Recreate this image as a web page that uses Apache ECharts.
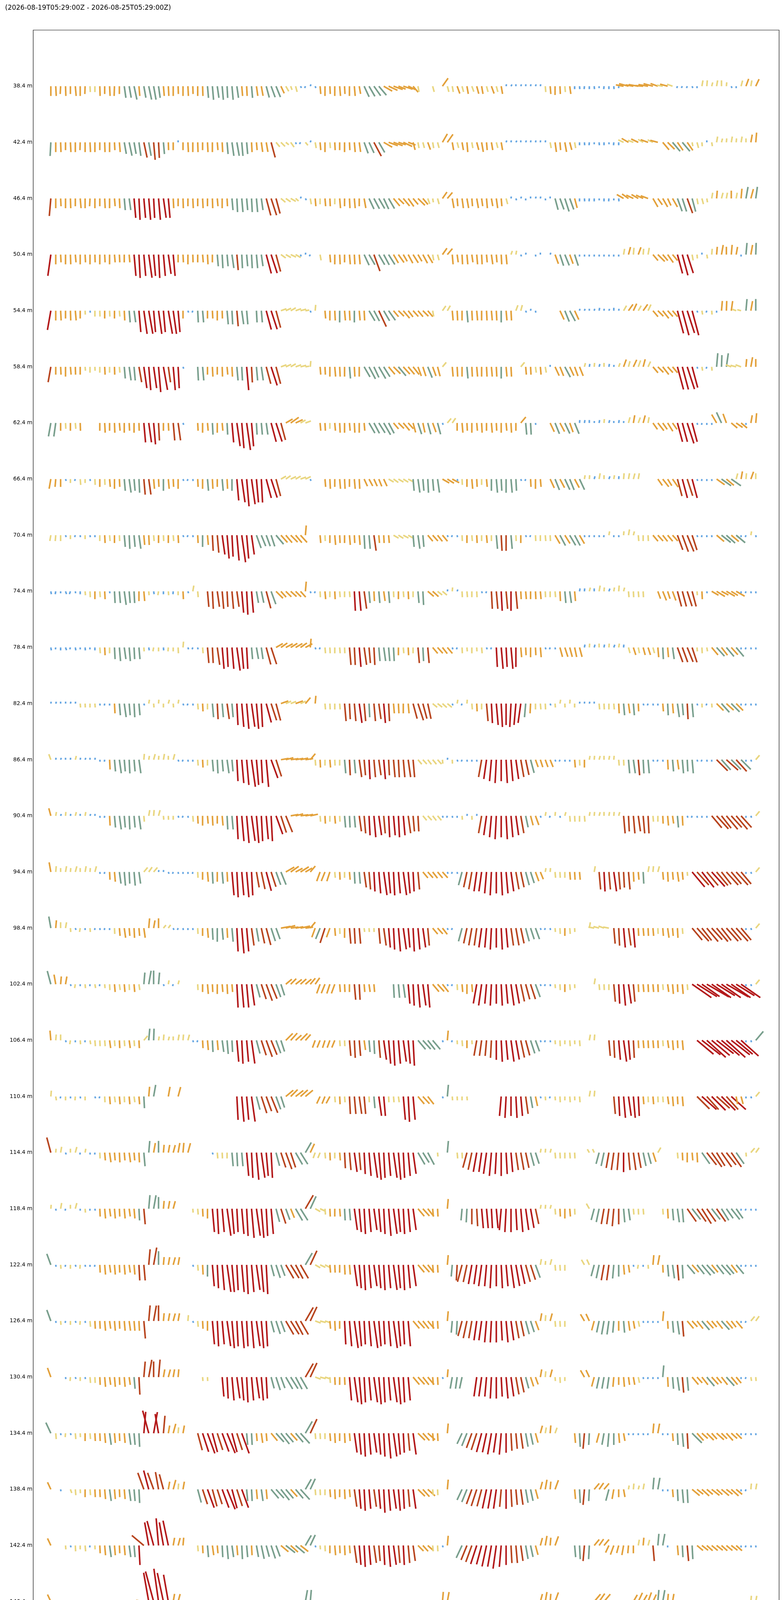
<!DOCTYPE html>
<html>
<head>
<meta charset="UTF-8">
<title>Wind sticks by height</title>
<script src="https://cdn.jsdelivr.net/npm/echarts@6/dist/echarts.min.js"></script>
<style>
  body { margin: 0; background: #fff; }
  #chart { width: 2004px; height: 6002px; }
</style>
</head>
<body>
<div id="chart"></div>
<script>
// ---- data (hourly samples) ----
var _ = null;                                   // no sample
var startTime = Date.UTC(2026, 7, 19, 5, 29);   // first sample
var stepMs = 3600 * 1000;                        // one sample per hour
var titleText = '(2026-08-19T05:29:00Z - 2026-08-25T05:29:00Z)';

var heights = [38.4, 42.4, 46.4, 50.4, 54.4, 58.4, 62.4, 66.4, 70.4, 74.4,
  78.4, 82.4, 86.4, 90.4, 94.4, 98.4, 102.4, 106.4, 110.4, 114.4,
  118.4, 122.4, 126.4, 130.4, 134.4, 138.4, 142.4, 146.4, 150.4, 154.4,
  158.4, 162.4, 166.4, 170.4, 174.4, 178.4, 182.4, 186.4, 190.4, 194.4];

var dayTicks = ['2026-08-20', '2026-08-21', '2026-08-22', '2026-08-23', '2026-08-24', '2026-08-25'];

// speed classes (m/s) and their colours
var speedBins = [2, 4, 6, 8, 10];
var binColors = ['#65a6e2', '#e9d680', '#e3a13b', '#799f8d', '#b8451f', '#b3191a'];

// speed (m/s) per hour, rows 38.4 m .. 166.4 m
var speedRows = [
  [5,5,4,5,4,5,5,4,3,3, 5,4,5,5,4,6,6,7,5,6, 7,7,6,5,5,5,4,5,5,4, 5,5,6,7,6,7,6,7,6,5, 5,6,5,5,6,6,6,4,3,2, 3,1,1,1,1,4,5,4,5,5, 4,5,5,4,6,6,6,6,5,5, 5,4,5,4,4,3,_,_,3,_, 5,3,3,4,3,4,3,4,4,3, 4,3,4,1,1,1,1,1,1,1, 1,3,4,4.5,4,3,4,1.5,1.5,1.5, 1.5,1.5,1,1.5,1.5,1.5,1,4,5,4, 5,4,5,5,4,3,4,3,1,1, 1,1,1,3,3,2,3,3,2,1, 1,3,4,3,4],
  [7,5,5,4,5,5,4,5,5,5, 4,5,5,4,5,6,7,6,7,8, 7,9,8,6,4,4,1,4,5,5, 5,4,5,5,4,5,6,7,7,7, 6,5,4,5,5,8,3,3,2,3, 1,1,2,1,3,4,5,3,4,4, 5,4,5,5,6,6,8,6,5,5, 5,4,5,4,4,3,3,4,3,3, 5,5,4,3,4,5,3,4,5,4, 4,3,4,1,1,1,1,1,1,1, 1,1,3,5,4,5,4,3,1.5,1.5, 1.5,1,1.5,1.5,1,1.5,1.5,3,4,3, 4,3,4,3,4,5,5,6,5,6, 5,2,3,2,1,2,3,2,2,3, 2,3,2,4,5],
  [9,5,4,5,5,4,5,5,4,5, 4,5,5,4,5,6,6,10,11,10, 11,10,11,10,10,5,4,5,4,5, 4,5,4,5,4,5,4,6,7,7, 6,7,7,6,9,9,8,3,3,3, 2,1,1,3,4,3,4,4,3,5, 4,5,5,4,5,6,6,6,6,6, 5,4,5,5,4,5,4,3,2,3, 4,4,5,4,5,5,4,5,4,5, 4,5,4,3,1,1,1,1,1,1, 1,1,1,6,6,7,6,5,1.5,1.5, 1.5,1.5,1,1.5,1.5,1,1.5,4,4,4, 4,4,4,5,4,5,4,5,7,7, 8,7,3,3,2,3,4,3,3,4, 3,5,6,5,6],
  [11,5,4,5,5,4,5,4,5,4, 5,4,5,4,4,4,4,11,12,11, 12,11,12,11,10,11,4,4,5,4, 4,4,5,4,6,7,6,7,8,7, 6,7,7,6,10,10,9,3,3,3, 3,1,1,1,_,3,_,4,5,5, 4,5,5,5,6,6,9,6,6,6, 5,5,4,5,5,4,5,5,3,3, 4,4,5,4,5,5,4,5,5,4, 5,4,5,5,2,2,1,1,_,1, 1,_,1,5,6,6,5,6,1,1, 1,1,1,1,1,1,1,3,4,3.5, 4,3,3.5,4,5,4,5,4,10,11, 10,3,2,1,2,3,4,5,4,5, 4,1,6,5,6],
  [10,5,5,4,5,5,4,2,1,3, 3,4,3,4,3,5,6,6,11,12, 12,11,12,11,12,12,11,4,1,1, 6,6,4,4,5,4,7,7,8,7, 7,_,6,6,10,10,9,3,3,3, 3,3,2,1,3,_,4,5,5,6, 5,5,6,5,5,6,6,9,6,6, 4,4,5,4,4,4,4,4,3,_, 3,3,5,5,5,6,5,5,5,5, 5,5,6,5,5,3,3,1,1,1, _,_,_,_,5,6,6,5,1,1, 1,1,1.5,1,1,1.5,1,3,4,4, 3,4,3.5,4,4,5,4,4,12,13, 12,13,1,2,1,2,1,5,5,5, 2,2,6,5,6],
  [8,4,4,5,4,4,4,2,3,2, 3,4,3,4,3,6,7,7,8,11, 12,11,13,12,8,12,11,1,_,_, 7,7,4,5,4,5,4,5,7,7, 12,8,7,7,9,10,9,3,3,3, 3,3,2,3,_,4,4,5,5,5, 5,6,5,5,6,7,6,7,6,5, 5,6,5,5,5,5,5,6,5,5, 3,_,5,5,5,6,5,5,5,5, 5,5,6,5,5,_,3,4,4,3, 4,3,1,5,5,6,5,5,5,2, 1.5,2,1.5,2,1.5,1,2,4,3,4, 3.5,4,3,4,4,5,4,4,12,12, 12,11,1,2,1,2,7,6,7,3, 3,3,4,5,4],
  [7,7,4,3,4,3,4,_,_,_, 4,5,4,5,4,5,4,5,4,10, 10,11,9,4,4,9,9,1,_,_, 4,5,4,6,5,4,6,10,12,13, 14,12,6,6,6,10,10,9,4,5, 4,3,3,_,_,4,4,3,4,5, 5,4,5,5,4,6,6,6,7,6, 4,4,5,4,5,6,5,6,5,6, 1,3,3,4,5,4,5,4,5,4, 5,4,5,4,5,4,4,6,6,1, _,_,5,6,5,6,5,6,1.5,1.5, 1.5,1,1.5,2,1.5,1,1.5,1,3,4, 3,4,3,4,5,4,5,4,10,10, 11,10,1,1,1,1,5,6,5,4, 4,4,1,4,5],
  [5,4,4,1,2,1,3,2,1,3, 4,3,4,5,4,6,7,6,7,8, 8,5,4,6,5,4,5,1,1,1, 4,5,6,5,4,6,5,6,11,12, 14,13,12,12,10,10,9,3,3,3, 3,3,3,1,_,_,4,5,4,5, 5,4,5,5,4,4,4,4,4,3, 3,3,3,3,6,7,6,7,6,7, 4,4,4,1,3,4,5,4,3,4, 6,7,6,7,7,6,1,1,4,5, 4,_,5,6,5,6,6,5,6,2, 2,1.5,3,2,1.5,2,1.5,3,3,3, 3,_,_,_,4,5,4,5,9,10, 9,10,1,1,1,1,5,6,5,6, 3,4,3,4,3],
  [3,3,3,1,2,1,1,2,1,1, 3,4,3,4,3,6,7,6,7,5, 5,3,4,3,4,3,4,1,1,1, 4,6,5,8,9,10,12,11,13,14, 12,10,7,6,6,6,6,5,5,5, 5,5,5,_,_,4,3,4,5,4, 4,5,4,5,7,7,8,4,4,4, 3,3,3,3,6,7,6,4,4,4, 4,1,1,1,3,4,3,4,3,4, 3,7,8,8,7,3,4,1,1,3, 3,3,3,5,6,5,6,6,5,1, 1,1,1,1,2,1,1,2,3,2, 3,3,3,4,4,4,4,4,8,9, 9,8,1,1,1,1,5,6,6,5, 6,1,1,2,1],
  [1.5,1.5,1,1.5,1.5,1,1.5,2,3,4, 3,4,1,6,6,7,6,6,5,5, 2,1.5,2,1.5,2,1.5,2,4,1,3, 3,_,8,9,8,9,8,9,8,11, 12,11,6,6,9,7,5,4,4,4, 4,4,5,1,1,3,4,3,4,3, 3,3,10,10,9,6,5,6,5,6, 3,4,3,4,3,6,7,4,4,3, 3,1,2,1,3,3,3,3,1,1, 9,9,10,9,10,9,4,4,4,4, 4,3,3,3,5,6,6,5,1.5,1.5, 2,1.5,3,2,1.5,2,3,2,3,3, 3,3,_,_,4,5,4,5,8,8, 8,8,2,4,1,4,5,4,5,4, 5,1,1,1,1],
  [1.5,1,1.5,1.5,1,1.5,1,1.5,1,1.5, 3,4,3,6,7,6,7,6,6,2, 1.5,2,2,1.5,2,2,3,3,1,1, 1,3,8,8,9,11,10,11,12,11, 11,6,6,6,9,9,4,4,4,4, 4,4,4,4.5,1,1,3,3,3,3, 3,9,9,10,9,8,9,7,7,7, 7,4,3,4,3,8,7,8,4,4, 4,4,1,1,3,2,3,2,3,1, 1,10,11,10,11,10,5,4,5,4, 5,1,1,1,5,5,5,5,5,1.5, 2,1.5,2,1.5,2,1.5,2,1.5,3,4, 3,4,4,3,5,6,5,6,8,8, 8,8,2,3,2,5,6,5,6,5, 6,1,1,1,1],
  [1,1,1,1,1,1,2,2,2,2, 1,1,1,5,6,7,6,7,6,1, 2,2,2,2,2,2,2,1,1,1, 3,4,3,7,8,7,8,7,11,12, 13,12,13,12,10,9,9,4,3,3, 4,3,4,_,4,_,3,3,3,3, 9,8,9,10,9,7,9,8,10,9, 5,5,5,5,8,9,8,8,3,3, 3,3,1,2,1,2,3,4,3,9, 10,11,12,11,12,11,10,7,5,3, 3,3,1,2,2,2,2,2,1,1, 1,1,3,3,3,3,5,6,5,6, 4,1,1,1,1,4,6,5,7,6, 8,7,1,2,1,2,5,6,5,6, 5,1,1,1,1],
  [3,1,1,1,1,2,1,1,1,1, 1,1,5,6,7,6,7,6,7,3, 2,3,2,3,2,3,1,1,1,1, 3,4,3,6,7,6,7,6,11,12, 13,14,13,12,14,10,9,4,4,4, 4,4,4,4,3,4,3,4,3,3, 7,8,7,9,8,10,9,8,10,8, 9,9,9,9,9,3,3,3,3,3, 2,1,2,1,1,1,1,1,9,10, 11,12,11,12,11,10,9,8,7,4, 4,4,4,1,1,1,1,4,3,4, 2,2,2,2,2,2,3,3,7,7, 8,7,7,1,1,1,5,6,5,7, 6,7,1,1,1,1,8,7,8,7, 8,7,1,1,3],
  [4,2,1,2,1,2,1,2,1,1, 1,1,5,6,7,6,7,6,7,3, 3,3,3,2,2,2,1,1,1,3, 4,5,4,5,4,5,7,7,12,13, 14,13,14,13,12,13,10,9,9,4, 4,4,4,4,_,3,4,3,4,3, 6,6,6,8,9,10,11,10,9,11, 10,11,10,9,8,8,3,3,3,3, 1,1,1,1,2,1,2,1,9,10, 11,12,11,12,11,10,9,6,5,5, 1,2,1,2,1,2,3,3,3,3, 2,2,2,2,2,2,2,9,8,9, 8,9,9,3,3,4,5,4,6,5, 1,1,1,1,1,8,9,8,9,8, 9,8,1,1,3],
  [5,3,2,3,2,3,2,3,2,3, 1,1,4,5,6,7,6,7,6,3, 3,3,1,1,1,1,1,1,1,1, 3,4,5,6,5,6,5,12,13,12, 13,12,8,9,10,8,7,7,5,5, 4,5,4,4,_,5,5,5,3,4, 3,4,6,6,8,9,10,11,12,11, 12,11,12,11,10,9,4,4,4,4, 4,1,1,1,7,8,9,10,10,11, 12,11,12,11,10,9,8,7,6,5, 4,2,2,3,3,3,4,4,4,_, _,3,9,10,9,10,9,8,9,5, 4,6,3,3,3,4,5,4,5,4, 2,10,9,10,9,10,9,8,9,8, 9,8,1,1,3],
  [6,4,3,3,2,1,2,1,2,1, 1,1,1,3,4,5,4,5,4,5, 5,4,5,2,2,1,1,1,1,1, 3,4,5,6,7,6,5,7,12,13, 12,9,7,8,9,7,6,5,5,4, 4,5,4,4,5,6,8,5,4,3, 5,8,8,8,2,2,2,8,9,10, 11,12,11,10,12,11,10,9,4,4, 4,1,1,_,7,8,9,9,10,10, 11,10,11,10,9,9,8,7,6,6, 1,1,1,2,3,4,3,2,_,_, 3,3,3,3,3,8,9,10,9,10, 4,4,4,4,3,4,5,4,5,3, _,8,9,8,9,8,9,8,9,8, 9,8,1,1,3],
  [7,5,4,4,1,2,1,2,1,2, 1,2,3,4,3,4,3,4,3,6, 7,7,6,1,2,1,2,_,_,_, 3,4,5,4,5,4,5,4,12,12, 12,11,7,8,9,8,7,6,4,4, 4,4,4,4,4,5,5,5,5,4, 4,4,8,8,4,4,4,_,_,_, 7,7,7,10,11,12,11,12,5,5, 5,1,1,3,4,5,4,10,11,10, 11,10,11,10,11,10,9,8,8,7, 1,1,1,2,3,4,3,2,_,_, _,3,3,3,3,9,10,11,10,9, 4,4,4,4,4,3,4,5,4,5, 3,12,12,11,13,12,11,12,13,12, 11,12,1,1,3],
  [5,3,3,1,2,1,2,1,2,3, 3,3,4,3,4,3,4,3,4,3, 6,6,2,3,2,2,3,3,3,1, 1,4,5,6,5,6,7,6,11,12, 11,12,7,8,9,8,7,6,5,5, 4,5,4,_,4,4,4,4,4,3, 3,8,9,8,5,6,7,9,10,12, 13,12,11,12,13,6,6,6,6,_, 1,5,1,2,3,4,2,8,8,8, 9,10,11,10,11,10,9,8,7,6, 1,1,1,2,3,2,3,2,3,_, 3,3,_,_,8,9,10,11,10,9, 4,4,4,4,4,3,4,5,4,5, _,_,11,12,13,12,11,12,13,12, 11,12,1,1,6],
  [3,2,1,2,1,2,1,2,_,1, 1,3,4,3,4,3,4,3,4,6, 5,6,_,_,5,_,5,_,_,_, _,_,_,_,_,_,_,_,12,13, 12,13,7,9,8,9,7,6,5,5, 5,5,5,_,_,4,4,4,3,4, 3,9,9,9,9,3,6,10,10,3, 3,3,12,13,12,5,5,5,_,_, 1,6,2,2,2,2,_,_,_,_, _,_,10,11,10,11,10,9,6,5, 1,2,1,2,3,2,3,2,3,_, 3,3,_,_,_,9,10,11,10,11, 10,4,3,4,3,3,4,5,4,5, _,_,9,10,9,10,9,10,9,10, 4,4,1,1,3],
  [8,2,3,1,2,3,1,2,1,1, 3,4,5,4,5,4,5,4,5,7, 6,5,6,4,4,4,5,5,5,_, _,_,_,1,3,3,3,7,7,7, 12,13,14,13,12,13,7,8,9,8, 7,7,6,5,3,3,3,4,3,4, 8,9,10,9,11,12,13,14,13,12, 13,14,13,12,11,7,6,7,_,2, _,6,_,3,3,8,9,10,10,11, 12,11,12,11,10,9,9,8,7,6, 2,2,2,3,3,3,3,3,_,_, 2,2,6,7,8,9,9,10,9,9, 8,7,6,5,3,_,_,_,3,4, 5,4,5,7,8,9,8,9,8,9, 7,_,2,3,3],
  [2,1,3,1,2,3,1,2,1,1, 4,5,4,5,4,5,4,5,6,8, 7,7,6,4,4,4,_,_,_,2, 3,4,5,12,13,12,14,13,12,13, 14,15,14,15,14,13,7,8,6,5, 7,7,8,7,3,3,3,4,4,4, 6,6,11,12,13,12,11,12,13,14, 13,12,13,12,11,5,5,5,4,4, _,5,_,_,6,7,8,9,10,10, 10,10,11,12,12,11,12,11,10,8, 2,2,2,3,4,5,4,3,_,_, 3,6,7,8,8,9,8,7,6,3, 3,3,_,_,_,3,5,6,7,7, 8,7,8,9,8,7,8,7,6,7, 6,1,1,1,1],
  [6,1,2,1,2,1,2,1,1,1, 4,5,4,5,4,5,4,5,8,8, 8,9,7,4,4,4,4,_,_,1, 3,5,6,11,12,13,14,14,13,14, 15,14,13,14,15,6,7,6,8,8, 8,8,7,8,3,3,3,4,4,4, 5,5,11,12,13,12,11,12,13,12, 13,12,13,12,11,5,5,5,4,4, _,5,6,8,9,9,10,10,11,11, 12,11,12,11,12,11,10,9,8,7, 3,2,3,3,3,3,_,_,_,3, 3,6,7,8,8,7,6,5,4,1, 2,1,2,5,5,4,6,7,8,7, 6,5,6,7,6,5,6,7,6,5, 6,1,1,1,1],
  [6,1,2,1,2,1,2,1,3,4, 4,5,4,5,4,5,5,5,5,9, 8,8,8,4,4,4,4,_,3,1, 3,4,5,12,13,12,13,14,13,14, 13,14,13,14,13,6,7,6,8,8, 8,8,8,8,3,3,3,4,5,4, 12,13,14,13,12,13,14,13,12,13, 14,13,12,13,5,5,5,5,4,4, _,5,6,7,8,9,9,10,10,11, 11,11,10,11,10,9,8,7,6,5, 4,3,4,3,3,3,_,_,_,4, 4,5,6,7,7,6,5,6,5,4, 3,1,1,1,1,5,4,6,7,8, 5,4,5,6,5,4,5,6,5,4, 5,1,1,3,3],
  [5,_,_,1,2,1,2,1,3,3, 4,5,4,5,4,5,4,6,9,8, 9,8,9,4,4,4,4,_,_,_, _,2,2,_,_,10,11,12,11,12, 13,12,11,12,11,6,7,6,7,7, 7,7,8,8,3,3,3,3,4,4, 4,12,13,14,13,12,13,14,13,12, 13,14,13,12,5,5,5,5,4,4, 1,4,6,6,6,_,_,10,10,10, 11,11,10,11,10,9,8,6,5,4, 4,3,4,2,3,2,_,_,_,4, 4,5,6,6,6,5,4,5,4,4, 3,1,1,1,1,6,5,6,7,8, 7,5,4,5,6,5,4,5,6,5, 4,1,1,2,2],
  [6,3,1,2,1,3,2,4,3,4, 4,5,6,5,4,5,6,6,7,11, 12,11,10,9,4,5,3,4,_,_, 9,10,11,10,9,10,11,10,9,11, 6,6,4,5,4,5,6,7,6,5, 6,7,7,8,3,3,3,4,5,4, 5,4,10,11,12,11,10,11,12,13, 12,11,10,9,11,5,5,5,4,4, _,5,_,_,6,7,8,9,10,10, 11,10,11,10,9,8,8,7,6,5, 4,3,4,3,_,_,_,5,7,8, 6,_,5,6,7,6,5,4,1,1, 1,1,1,5,5,1,1,4,6,7, 8,7,5,4,5,4,5,4,5,4, 4,1,1,1,1],
  [4,_,1,_,2,3,2,4,3,4, 4,5,6,5,4,5,6,6,7,9, 10,9,9,8,4,5,3,4,_,_, 7,8,10,9,8,10,11,10,9,10, 6,6,5,6,5,6,6,7,6,5, 6,7,6,6,3,3,3,4,5,4, 5,4,9,10,11,10,9,10,12,11, 10,11,10,9,10,5,5,5,3,3, _,5,_,_,6,7,8,9,9,10, 10,10,9,10,9,8,8,7,6,5, 4,5,4,5,_,_,_,5,7,8, 6,4,4,4,6,5,4,4,2,3, 2,3,_,6,6,1,1,4,6,7, 7,5,4,5,4,5,4,5,4,5, 4,1,1,3,3],
  [4,_,_,2,1,3,2,3,1,2, 4,5,6,5,4,5,6,6,10,8, 12,13,14,12,13,4,4,4,_,_, 3,4,6,5,4,6,7,6,5,7, 6,5,6,7,6,7,6,5,6,5, 6,5,6,6,1,2,3,4,5,4, 5,4,9,10,11,10,9,8,10,11, 10,9,10,9,8,4,4,4,3,3, 1,5,_,_,7,8,9,10,10,11, 11,12,11,10,9,9,8,7,6,5, 4,5,4,5,_,_,_,6,7,8, 7,4,4,4,4,5,4,5,4,4, 3,4,3,8,6,6,1,_,5,6, 8,7,4,4,4,4,4,4,4,4, 4,1,1,1,1],
  [4,_,_,2,1,3,2,3,1,2, 4,5,6,5,4,5,6,6,8,4, 15,16,17,15,14,4,4,_,_,_, 1,1,1,5,5,5,1,1,2,3, 2,6,6,6,6,11,5,6,5,6, 5,6,6,6,_,3,3,4,5,4, 5,4,6,7,8,9,10,9,8,9, 10,9,8,7,6,5,5,5,_,1, 5,5,_,_,6,7,8,9,10,11, 12,11,12,11,10,9,8,7,6,5, 4,5,4,5,_,_,_,6,7,8, 7,5,5,5,4,5,4,5,4,4, 5,4,5,4,6,6,4,4,7,8, 8,7,4,4,4,4,4,4,4,4, 4,1,1,3,3],
  [5,_,_,2,1,3,2,3,1,2, 4,5,6,5,4,5,6,6,5,8, 16,18,20,19,17,4,4,3,3,3, 3,1,2,1,3,3,3,2,3,2, 3,2,7,7,20,6,6,5,6,5, 6,5,6,6,3,3,3,3,4,5, 4,5,4,6,7,8,9,8,7,9, 8,9,8,7,6,4,4,4,1,1, 5,_,_,_,6,7,8,9,10,10, 11,10,11,10,9,9,8,7,6,5, 4,5,4,5,_,_,_,7,8,7, _,5,5,5,4,5,4,5,4,4, 5,4,5,4,8,9,8,9,9,10, 9,10,4,4,4,4,4,4,4,4, 4,1,1,3,3],
  [4,4,_,_,2,3,2,3,2,_, _,8,9,10,5,6,7,8,24,16, 20,20,19,20,5,4,5,4,3,3, 1,2,3,1,2,3,6,3,4,3, 4,3,_,1,6,20,7,5,5,6, 5,5,6,4,4,4,4,6,6,6, 4,4,4,9,10,11,10,12,12,12, 6,7,6,5,6,5,5,5,5,8, 2,2,_,_,8,8,_,_,9,10, 11,12,11,10,11,10,9,8,5,4, 5,2,2,2,2,4,4,_,_,8, 10,11,12,6,6,5,6,4,4,4, 3,15,9,10,9,_,_,_,10,12, 13,11,3,3,3,3,3,3,3,3, 1,2,1,4,4],
  [5,3,3,2,3,2,3,2,1,1, 1,3,3,3,5,6,7,8,6,16, 11,14,16,18,4,5,6,4,3,4, 3,4,2,1,2,8,9,3,2,3, 2,3,1,2,1,21,5,5,5,6, 5,5,6,3,3,3,10,7,8,9, 10,11,12,13,12,11,12,13,14,13, 13,14,13,5,6,4,5,5,5,6, 1,1,1,_,_,14,17,17,9,10, 11,10,20,10,11,9,8,6,5,3, 4,3,3,3,3,_,_,_,12,12, 6,7,6,5,4,4,4,4,3,20, 20,6,6,6,3,_,_,_,12,14, 13,6,7,6,5,6,7,6,5,6, 5,4,4,4,4],
  [5,2,2,3,4,5,4,5,_,_, _,6,6,4,5,6,5,4,12,12, 11,12,13,14,6,6,6,3,3,3, 1,2,3,1,2,5,5,1,1,1, 1,1,_,5,6,8,4,4,4,4, 3,3,_,_,7,5,5,5,_,_, 9,10,11,12,13,14,12,11,13,12, 10,6,5,6,7,5,5,5,5,16, _,_,_,13,50,_,_,_,7,8, 9,10,9,10,9,8,7,6,5,4, 4,3,4,5,_,_,_,12,12,12, 5,6,5,4,5,5,5,5,10,10, 4,14,15,16,14,_,_,_,12,18, 16,4,5,4,5,5,5,4,5,4, 4,4,9,9,9],
  [5,3,3,2,3,2,9,3,_,_, _,_,4,5,6,7,6,5,5,16, 10,11,12,13,5,5,4,5,6,4, 5,3,3,_,10,7,7,1,2,1, 2,1,3,3,29,5,5,6,6,5, 6,6,2,3,2,3,1,1,1,11, _,_,_,12,3,3,3,8,1,2, 1,14,_,_,_,6,_,_,_,_, _,_,_,_,_,6,7,8,7,9, 8,9,8,7,6,8,7,6,5,5, 4,5,4,3,4,_,_,7,12,13, 14,12,6,5,8,10,6,5,_,_, 6,13,12,13,12,_,_,_,10,10, 9,_,_,_,_,_,_,_,_,_, _,_,_,2,_]
];

// stick direction in degrees on the page: 0 = straight down, 90 = right, 180 = up, -90 = left
var dirRows = [
  [0,3,-3,2,0,5,0,-2,3,0, 2,0,3,-2,0,8,10,12,5,10, 12,10,8,5,3,0,2,0,3,2, 0,2,5,5,8,5,3,5,8,5, 3,5,8,10,15,20,22,25,30,20, 15,30,-20,160,20,5,0,3,0,5, 3,0,5,10,25,30,35,40,60,65, 70,68,72,65,40,10,_,_,15,_, 145,15,10,20,15,10,20,15,10,15, 20,15,10,170,150,180,160,175,170,160, 170,5,5,0,3,5,8,0,5,-5, 0,5,0,-5,0,5,0,-100,-105,-100, -100,-95,-100,-105,-110,-100,-105,-110,-20,-30, -20,20,0,170,175,165,170,180,175,20, 0,165,160,170,155],
  [-3,0,2,0,3,0,-2,0,3,0, 0,2,0,3,5,10,12,10,8,12, 10,5,3,5,2,0,180,0,3,0, 2,0,3,0,5,3,5,8,10,5, 5,3,5,8,10,15,40,45,50,35, 20,-30,40,160,10,5,0,5,3,0, 0,3,5,8,20,25,28,30,60,70, 70,72,65,70,15,10,15,20,10,15, 150,145,10,15,10,5,10,15,10,5, 10,15,10,160,170,150,180,160,170,165, 175,170,10,8,5,10,15,10,0,5, -5,0,5,0,5,-5,0,-115,-120,-110, -115,-120,-110,-115,-105,40,45,40,35,40, 35,10,15,5,180,10,170,165,175,170, 175,170,180,170,175],
  [-5,0,3,0,2,0,5,0,-3,0, 0,3,0,5,3,5,8,5,3,5, 5,3,5,8,5,3,0,2,0,3, 0,3,0,2,5,0,3,5,3,5, 5,3,5,8,15,18,15,50,55,60, 50,160,30,10,5,0,5,3,0,5, 0,3,5,0,10,25,28,30,25,30, 40,45,40,35,40,45,40,20,10,15, 145,140,10,5,8,10,5,10,8,5, 10,8,5,15,170,20,160,0,180,160, 170,10,180,15,20,18,20,15,0,5, -5,0,5,0,-5,0,5,-120,-125,-115, -120,-115,-110,30,35,30,25,30,20,18, 20,15,10,15,10,170,175,165,170,180, 170,175,170,165,172],
  [-8,0,3,0,2,5,0,3,0,2, 0,3,0,5,3,0,5,5,3,5, 8,5,3,5,8,5,0,3,0,2, 0,5,3,0,5,3,5,8,5,3, 5,3,5,8,15,18,15,55,60,65, 60,20,170,-30,_,10,_,5,0,3, 0,5,3,5,25,30,20,30,28,32, 30,35,30,28,32,30,28,30,10,15, 145,140,5,8,3,5,8,5,3,5, 8,5,3,5,160,170,20,170,_,10, 180,_,160,20,18,22,20,18,0,5, -5,0,5,0,5,-5,0,170,165,175, 160,175,170,40,45,40,35,40,15,15, 18,10,5,180,10,175,175,170,180,175, 170,0,175,170,178],
  [-10,0,3,0,2,5,0,3,10,0, 2,0,3,0,5,3,5,8,5,8, 10,5,8,5,10,8,5,0,20,-20, 3,5,0,3,0,2,5,3,5,8, 5,_,3,5,15,18,15,110,115,120, 110,105,100,20,175,_,5,0,3,0, 5,3,0,5,3,30,28,25,30,35, 40,45,40,38,42,40,45,40,10,_, 145,150,5,3,0,5,3,5,0,3, 5,3,0,5,3,160,165,20,170,10, _,_,_,_,25,22,28,25,170,160, 180,165,170,175,160,180,170,150,145,155, 150,145,155,40,45,38,42,40,15,15, 18,15,20,10,-20,5,0,175,178,172, -110,-105,175,170,180],
  [-10,0,3,0,5,2,0,5,0,3, 0,3,0,2,5,5,8,5,10,8, 5,8,5,10,8,5,3,20,_,_, 3,5,0,3,0,2,5,3,5,3, 5,3,5,8,15,18,15,110,115,120, 110,105,100,175,_,5,3,0,5,3, 0,5,3,0,30,28,25,30,32,40, 45,40,42,40,38,20,18,22,20,15, 140,_,5,3,0,5,3,5,0,3, 5,3,0,5,3,_,140,5,3,8, 5,10,180,25,22,28,25,20,22,165, 170,175,165,180,170,175,160,160,165,155, 160,165,155,40,45,38,42,40,15,15, 18,15,20,10,-20,5,175,178,172,-110, -105,-110,175,170,180],
  [-10,-8,0,3,0,5,2,_,_,_, 0,3,0,2,5,0,3,0,2,5, 8,5,3,0,3,5,8,20,_,_, 3,0,5,3,0,5,3,5,8,5, 8,5,3,5,8,15,18,15,120,125, 115,120,110,_,_,5,3,0,5,3, 0,5,3,0,5,30,28,32,30,28, 40,45,40,42,15,18,12,15,20,15, 20,140,145,0,5,3,0,5,3,0, 5,3,0,5,3,0,140,5,3,10, _,_,25,22,28,25,20,22,175,170, 180,175,170,175,165,180,170,175,165,170, 160,165,170,35,38,35,32,35,15,15, 18,15,20,-10,0,5,-150,-155,-160,50, 55,50,0,170,175],
  [-10,-5,0,20,0,-20,5,0,10,3, 0,3,5,0,3,5,8,5,3,5, 8,5,3,0,5,3,0,20,-20,10, 3,0,5,3,0,5,3,0,5,8, 5,8,5,3,15,18,15,120,125,115, 120,110,115,20,_,_,5,3,0,5, 3,0,5,3,25,28,25,22,25,60, 55,60,58,62,5,8,5,3,5,8, 60,58,62,20,3,0,5,3,0,5, 0,5,3,0,5,3,20,-20,3,0, 5,_,25,22,28,25,22,28,25,170, 175,165,170,180,160,170,175,175,170,165, 170,_,_,_,35,38,32,35,15,15, 18,15,20,-10,0,5,55,55,50,55, 165,170,175,160,180],
  [-10,-5,0,20,0,-20,5,0,10,3, 0,3,5,0,3,5,3,5,8,5, 3,5,0,3,0,5,3,20,-20,10, 3,0,5,3,5,8,5,3,5,8, 5,8,20,22,20,18,40,42,40,45, 40,42,175,_,_,5,3,0,5,3, 0,5,3,5,3,5,8,5,3,5, 60,58,62,60,5,8,5,40,42,38, 40,20,-20,10,3,0,5,3,0,5, 0,5,3,0,5,3,0,20,-20,3, 0,5,3,30,28,32,30,28,30,10, -5,0,5,-10,170,0,5,175,170,165, 5,0,3,40,42,38,40,42,20,20, 22,18,20,-10,0,5,50,52,48,50, 50,0,-20,170,10],
  [10,-10,0,20,-20,10,0,5,3,0, 5,3,10,3,5,8,5,3,0,5, 5,10,-10,0,5,-5,0,3,20,170, 5,_,5,3,8,5,3,5,8,5, 3,5,10,12,15,20,45,42,45,48, 45,42,175,20,-20,3,5,0,3,5, 0,5,3,5,8,5,3,5,8,5, 3,0,5,3,0,5,3,50,48,52, 50,170,175,160,3,5,0,3,20,-20, 3,5,3,5,0,5,3,5,0,3, 5,3,0,5,3,5,8,5,170,175, 165,180,170,175,160,170,175,165,5,3, 5,3,_,_,20,22,18,20,15,15, 18,15,5,3,10,60,58,62,60,58, 60,0,-20,10,5],
  [10,-10,0,20,-20,10,0,5,-5,0, 5,3,0,3,5,8,5,3,5,5, 10,-10,0,5,-5,0,3,175,20,-20, 10,5,5,3,8,5,3,5,8,5, 3,5,10,8,15,18,120,125,118,122, 120,125,118,175,20,-20,5,3,0,5, 3,5,3,5,8,5,3,5,8,5, 3,0,5,3,0,5,3,5,40,42, 38,40,20,-20,3,5,0,3,5,20, -20,3,5,3,5,0,5,3,0,3, 5,20,-20,10,15,18,15,12,15,170, 175,165,180,170,175,160,170,175,15,18, 12,15,18,15,5,3,5,8,20,20, 22,18,5,3,10,40,42,38,40,42, 40,0,-20,10,5],
  [170,160,180,175,165,170,5,3,0,5, 10,-10,0,3,5,8,5,3,5,20, 170,5,175,0,165,5,170,20,-20,10, 5,3,0,5,3,5,8,5,3,5, 5,8,5,3,15,18,15,110,115,112, 110,115,140,_,175,_,5,3,0,5, 5,3,5,8,5,3,5,8,5,3, 5,3,0,5,15,18,15,12,50,52, 48,50,20,170,-20,175,5,3,0,5, 3,5,3,0,-3,-5,-8,-5,-3,0, 5,3,20,5,170,3,175,0,170,175, 165,180,5,3,0,5,3,5,8,5, 3,20,-20,10,0,5,3,5,8,5, 3,5,20,3,-20,5,45,42,48,45, 45,0,-20,10,5],
  [-160,170,160,180,175,165,170,160,180,170, 10,-10,3,5,8,5,3,5,8,175, 170,165,175,170,180,165,20,-20,10,0, 5,3,0,5,3,5,8,5,3,5, 5,8,5,3,5,20,18,100,105,98, 100,102,98,140,5,3,0,5,3,0, 5,3,5,8,5,3,5,8,5,3, 5,3,5,8,5,40,42,38,40,42, 5,170,3,20,-20,10,0,5,-10,-8, -5,-3,0,3,5,8,10,12,15,20, 18,20,22,20,-20,10,0,5,3,0, 170,175,165,180,170,175,5,3,5,8, 5,3,5,20,-20,10,3,5,8,5, 3,5,20,-20,10,0,45,42,48,45, 42,45,0,20,140],
  [-165,170,160,175,170,165,180,170,160,175, 10,-10,3,5,8,5,3,5,8,5, 170,175,165,5,3,0,20,-20,10,5, 3,0,5,3,0,5,3,5,3,5, 5,8,5,3,5,3,20,18,22,100, 105,98,100,102,_,5,3,0,5,3, 5,3,5,8,5,3,5,8,5,3, 5,3,5,8,5,3,40,42,38,40, 20,-20,10,0,5,170,3,175,-10,-8, -5,-3,0,3,5,8,10,12,15,20, 20,170,-20,175,10,165,5,3,0,5, 170,175,165,180,170,175,165,5,3,5, 8,5,3,5,0,3,5,8,5,3, 20,-20,10,0,5,40,42,38,40,42, 40,42,0,20,140],
  [-170,175,180,170,175,165,180,170,175,165, 10,-10,3,5,8,5,3,5,8,140, 145,140,170,175,20,-20,10,0,5,-10, 3,0,5,3,0,5,3,5,3,5, 5,3,10,12,15,18,20,22,120,125, 118,122,120,140,_,-20,-22,-18,5,3, 0,5,3,5,8,5,3,5,8,5, 3,5,8,5,3,5,40,42,38,40, 42,20,-20,10,-15,-12,-10,-8,-8,-5, -3,0,3,5,8,10,12,15,18,20, 22,170,175,5,3,0,5,3,5,_, _,170,5,3,5,8,5,3,5,3, 5,3,170,175,165,5,3,5,8,5, 5,40,42,38,40,42,40,38,42,40, 42,40,0,20,140],
  [-170,175,180,170,5,20,-10,0,5,-5, 10,-10,0,3,5,8,5,3,5,8, 175,170,180,140,145,20,-20,10,0,5, 3,0,5,3,0,5,3,5,3,5, 5,8,10,12,15,18,20,100,105,98, 100,102,98,140,-20,-22,-18,-20,5,3, 0,5,3,5,8,5,3,5,8,5, 3,5,8,5,3,5,8,5,40,42, 38,20,-20,_,-15,-12,-10,-8,-8,-5, -3,0,3,5,8,10,12,15,18,20, 20,-20,10,5,3,0,5,3,_,_, 170,-100,-105,-110,-100,5,3,5,8,5, 3,5,3,5,3,5,8,5,3,5, _,40,42,38,40,42,40,38,42,40, 42,40,0,20,140],
  [-165,-170,175,170,20,-10,0,5,-5,10, -10,5,3,5,8,5,3,5,8,175, 170,180,175,20,170,-20,165,_,_,_, 3,0,5,3,0,5,3,5,3,5, 5,8,15,18,20,22,20,18,130,135, 128,132,130,140,145,-20,-22,-18,-20,5, 3,0,5,3,5,8,5,_,_,_, 3,5,8,5,3,5,8,5,40,42, 38,20,-20,3,5,0,5,-10,-8,-5, -3,0,3,5,8,10,12,15,18,20, 20,-20,10,5,3,0,5,3,_,_, _,170,5,3,0,5,3,5,8,5, 3,5,3,5,3,5,8,5,3,5, 5,55,58,55,60,55,58,55,60,55, 58,55,0,20,140],
  [-175,175,180,20,-10,0,5,-5,10,5, 3,5,8,5,3,5,8,5,3,140, 175,178,170,175,165,180,170,175,165,20, -20,3,5,3,5,8,5,3,5,3, 5,8,15,18,20,22,20,18,135,138, 132,135,138,_,-20,-22,-18,-20,-22,5, 3,5,3,5,8,5,3,5,8,5, 3,5,8,5,3,40,42,38,40,_, 20,175,-20,3,5,0,5,-10,-8,-5, -3,0,3,5,8,10,12,15,18,20, 20,-20,10,5,3,0,5,3,5,_, 170,175,_,_,5,3,5,8,5,3, 3,5,3,5,3,5,8,5,3,5, _,_,50,52,48,50,52,50,48,52, 50,48,0,20,140],
  [175,10,-10,0,5,-5,10,0,_,20, -20,3,5,8,5,3,5,8,5,3, 175,170,_,_,170,_,165,_,_,_, _,_,_,_,_,_,_,_,3,5, 5,8,15,18,20,22,20,18,130,135, 128,132,130,_,_,-25,-22,-28,5,3, 5,3,5,8,5,3,5,8,5,3, 5,8,5,3,5,40,42,38,_,_, 20,175,5,3,0,5,_,_,_,_, _,_,-5,-3,0,3,5,8,10,12, 20,5,-20,5,3,0,5,3,5,_, 170,175,_,_,_,5,3,5,8,5, 3,5,3,5,3,5,8,5,3,5, _,_,45,48,42,45,48,45,42,48, 10,15,0,20,140],
  [-165,175,170,20,180,165,-10,170,5,-5, 3,5,8,5,3,5,8,5,3,5, 175,170,180,175,170,165,170,175,165,_, _,_,_,20,5,3,0,5,3,5, 5,3,5,8,5,3,15,18,20,18, 30,32,150,155,-20,-22,5,3,0,5, 3,5,8,5,3,5,8,5,3,5, 8,5,3,5,8,30,32,28,_,5, _,175,_,5,3,-15,-12,-10,-8,-8, -5,-3,0,3,5,8,10,12,15,18, 170,175,165,5,3,0,5,3,_,_, -150,-155,-15,-12,-10,-8,-5,0,5,8, 10,12,15,18,150,_,_,_,5,3, 0,5,3,35,38,35,32,35,38,35, 35,_,5,140,145],
  [175,10,170,-10,180,165,0,5,-5,10, 3,5,8,5,3,5,8,5,3,5, 175,170,180,175,170,165,_,_,_,5, 5,3,0,5,3,5,8,5,3,5, 3,5,8,5,3,5,15,18,20,22, 30,32,150,155,60,65,5,3,0,5, 3,5,8,5,3,5,8,5,3,5, 8,5,3,5,8,40,42,38,5,3, _,175,_,_,-5,-3,0,3,5,5, 3,5,-5,-3,0,3,5,8,10,12, 170,175,165,5,3,0,5,3,_,_, -150,-15,-12,-10,-8,-5,0,5,8,5, 3,5,_,_,_,5,3,5,8,5, 35,38,35,32,35,38,35,32,35,38, 35,0,-20,10,5],
  [-160,10,5,-10,0,20,-5,10,0,-10, 3,5,8,5,3,5,8,5,3,5, 175,170,180,175,170,165,170,_,_,20, 5,3,0,5,3,5,8,5,3,5, 3,5,8,5,3,15,18,20,30,32, 28,30,150,155,60,65,62,5,3,0, 3,5,8,5,3,5,8,5,3,5, 8,5,3,5,8,40,42,38,5,3, _,175,-5,-3,-15,-12,-10,-8,-8,-5, -3,0,3,5,8,10,12,15,18,20, 170,175,165,5,3,0,_,_,_,-150, -155,-15,-12,-10,-8,-5,0,5,8,10, -10,0,5,175,170,3,5,8,5,3, 40,42,38,40,42,40,38,42,40,38, 40,0,-20,10,5],
  [-160,10,5,-10,0,20,-5,10,5,3, 3,5,8,5,3,5,8,5,3,5, 175,170,180,175,170,165,170,_,175,20, 5,3,0,5,3,5,8,5,3,5, 3,5,8,5,3,15,18,20,30,32, 28,30,150,155,70,75,72,5,3,0, 3,5,8,5,3,5,8,5,3,5, 8,5,3,5,40,42,38,40,5,3, _,175,-5,-3,-15,-12,-10,-8,-8,-5, -3,0,3,5,8,10,12,15,18,20, 170,175,165,5,3,0,_,_,_,-150, -155,-15,-12,-10,-8,-5,0,5,8,10, 12,10,-10,0,5,175,3,5,8,5, 40,42,38,40,42,40,38,42,40,38, 40,0,-20,140,145],
  [-160,_,_,10,-5,20,0,10,5,3, 3,5,8,5,3,5,8,5,3,175, 170,180,175,170,165,170,175,_,_,_, _,5,3,_,_,5,3,5,8,5, 3,5,8,5,3,15,18,20,30,32, 28,30,150,155,70,75,72,5,3,0, 3,5,8,5,3,5,8,5,3,5, 8,5,3,5,40,42,38,40,5,3, 20,175,-10,-8,-12,_,_,-8,-8,-5, -3,0,3,5,8,10,12,15,18,20, 170,175,165,5,3,0,_,_,_,-150, -155,-15,-12,-10,-8,-5,0,5,8,10, 12,10,-10,0,5,175,3,5,8,5, 5,40,42,38,40,42,40,38,42,40, 40,0,-20,10,5],
  [-155,5,10,-5,20,5,3,0,5,3, 3,5,8,5,3,5,8,5,3,175, -165,170,-170,175,170,165,175,170,_,_, 15,18,20,15,18,20,22,15,18,20, 5,3,5,8,5,40,42,38,40,42, 40,42,150,155,5,3,0,5,3,0, 3,5,8,5,3,5,8,5,3,5, 8,5,3,5,8,45,42,48,5,3, _,175,_,_,-25,-22,-20,-18,-15,-12, -10,-8,-5,0,3,5,8,10,12,15, 165,170,175,160,_,_,_,5,3,-5, -3,_,-15,-10,-5,0,5,10,10,-10, 0,10,-10,175,170,0,5,5,3,5, 3,45,42,48,45,42,48,45,42,48, 45,0,-20,10,5],
  [-155,_,10,_,20,5,3,0,5,3, 3,5,8,5,3,5,8,5,3,-160, -165,-160,-170,-165,170,165,175,170,_,_, 15,18,20,15,18,20,22,15,18,20, 5,3,5,8,5,40,42,38,40,42, 40,42,150,155,5,3,0,5,3,0, 3,5,8,5,3,5,8,5,3,5, 8,5,3,5,8,45,42,48,5,3, _,175,_,_,-25,-22,-20,-18,-15,-12, -10,-8,-5,0,3,5,8,10,12,15, 165,170,175,160,_,_,_,5,3,-5, -3,140,145,140,-15,-10,0,10,170,175, 165,170,_,175,170,0,5,5,3,5, 3,50,52,48,50,52,48,50,52,48, 50,0,-20,175,170],
  [-155,_,_,5,20,3,0,5,-10,3, 3,5,8,5,3,5,8,5,3,-130, -170,-165,-175,-170,-168,170,165,175,_,_, 5,3,5,8,5,3,5,8,5,3, 5,3,10,12,15,18,20,50,52,48, 50,52,150,155,20,5,3,0,5,3, 3,5,8,5,3,5,8,5,3,5, 8,5,3,5,8,45,42,48,5,3, 20,175,_,_,-25,-22,-20,-18,-15,-12, -10,-8,-5,0,3,5,8,10,12,15, 165,170,175,160,_,_,_,5,3,-5, -3,140,145,140,-25,-20,-15,-10,-5,0, 170,175,165,5,175,170,0,_,5,3, 5,3,50,52,48,50,52,48,50,52, 48,0,-20,10,5],
  [-155,_,_,5,20,3,0,5,-10,3, 3,5,8,5,3,5,8,5,3,-100, -170,-165,-172,-168,-170,170,165,_,_,_, 20,-20,10,5,3,8,20,-20,5,3, 5,5,3,5,8,15,50,52,48,50, 52,50,170,175,_,5,3,0,5,3, 3,5,8,5,3,5,8,5,3,5, 8,5,3,5,8,45,42,48,_,20, 175,170,_,_,-25,-22,-20,-18,-15,-12, -10,-8,-5,0,3,5,8,10,12,15, 165,170,175,160,_,_,_,5,3,-5, -3,140,145,140,-25,-20,-15,-10,-5,150, 155,150,160,155,175,170,175,170,5,3, 5,3,55,52,58,55,52,58,55,52, 55,0,-20,175,170],
  [-155,_,_,5,20,3,0,5,-10,3, 3,5,8,5,3,5,8,5,-95,3, -170,-168,-172,-170,-168,170,165,175,170,165, 170,20,5,-20,175,170,165,5,3,8, 5,3,5,3,10,50,52,48,50,52, 48,50,170,175,5,3,0,5,3,0, 3,5,8,5,3,5,8,5,3,5, 8,5,3,5,8,45,42,48,20,-20, 175,_,_,_,-25,-22,-20,-18,-15,-12, -10,-8,-5,0,3,5,8,10,12,15, 140,145,140,150,_,_,_,5,3,-5, _,140,145,140,-25,-20,-15,-10,-5,145, 150,145,140,150,-5,175,170,172,5,3, 5,3,60,62,58,60,62,58,60,62, 60,0,-20,175,170],
  [-160,-150,_,_,5,3,0,5,3,_, _,5,3,5,3,5,8,5,-72,-96, -168,-170,-172,-170,175,170,165,175,170,165, 20,5,3,-20,5,170,3,5,3,0, 5,3,_,20,5,-5,8,50,52,48, 50,52,175,170,175,165,170,5,3,8, 3,5,0,5,3,5,8,5,3,5, 8,5,3,5,8,50,52,48,50,-160, 170,175,_,_,-15,-12,_,_,-10,-8, -5,-3,0,3,5,8,10,12,5,3, 0,170,175,165,180,140,145,_,_,5, 175,178,172,-110,-115,-105,-110,145,140,150, 175,12,178,175,170,_,_,_,5,3, 5,8,160,165,160,155,160,165,160,155, 10,175,-10,170,175],
  [-160,175,170,5,3,0,5,3,10,-10, 20,5,3,0,5,3,5,8,5,-54, 5,175,-170,178,170,175,165,170,175,165, 170,175,5,20,3,5,8,3,5,0, 5,3,20,80,85,2,50,52,48,50, 52,50,150,5,3,0,178,5,3,8, 3,5,8,5,3,5,8,5,3,5, 8,5,3,5,8,5,50,52,48,-130, 20,-20,10,_,_,3,5,8,-10,-8, -5,-3,0,3,5,8,10,12,15,175, 170,175,5,3,0,_,_,_,178,175, 30,35,40,35,145,140,150,145,5,3, 5,175,170,178,3,_,_,_,5,3, 5,55,58,52,55,58,55,52,55,58, 55,170,175,165,170],
  [-160,5,3,5,3,0,5,3,_,_, _,5,3,5,3,5,8,5,-25,175, 175,170,178,172,170,175,165,5,3,8, 20,5,3,-20,5,170,175,20,-20,10, -10,5,_,5,3,5,150,145,140,150, 90,95,_,_,5,170,175,165,_,_, 3,5,8,5,3,5,8,5,3,5, 8,5,3,5,8,50,52,48,50,-121, _,_,_,-121,7,_,_,_,-10,-8, -5,-3,0,3,5,8,10,12,15,20, 5,3,0,5,_,_,_,3,178,175, 30,35,40,35,40,145,140,150,-25,-20, 5,172,175,178,170,_,_,_,5,3, 5,60,62,58,175,60,62,58,60,62, 60,58,65,65,62],
  [-160,175,170,5,3,0,-160,5,_,_, _,_,5,3,5,8,5,3,5,-35, 175,170,178,172,170,175,5,3,8,5, 3,170,175,_,5,175,170,20,5,-20, 5,10,150,145,-49,5,170,175,165,170, 110,105,5,3,8,5,20,-20,10,2, _,_,_,3,5,3,8,-20,20,5, -20,-10,_,_,_,175,_,_,_,_, _,_,_,_,_,-15,-10,-5,0,3, 5,8,10,12,15,18,20,22,25,28, 5,3,0,5,3,_,_,3,178,175, 172,170,30,35,20,25,40,35,_,_, 5,140,138,142,135,_,_,_,5,3, 5,_,_,_,_,_,_,_,_,_, _,_,_,175,_]
];

// sparse upper rows 170.4 m .. 194.4 m: [hour index, speed m/s, direction deg]
var upperSticks = [
  [[0,4,-160],[1,12,35],[2,1,180],[5,10,-127],[11,1,0],[16,8,3],[17,6,5],[19,17,-110],[22,15,-150],[23,15,-150],[24,3,150],[25,8,30],[26,3,120],[30,10,5],[32,4,170],[33,9,15],[35,3,170],[36,6,10],[38,1,180],[40,13,15],[41,16,10],[42,14,-10],[43,4,170],[44,14,5],[47,6,-115],[48,7,-40],[51,9,-25],[53,1,0],[54,4,170],[55,5,170],[56,3,0],[57,1,0],[61,11,175],[62,12,172],[63,11,178],[64,12,175],[65,11,170],[66,12,176],[69,1,0],[70,8,-20],[76,6,170],[78,3,170],[79,11,-7],[80,15,175],[84,3,175],[86,4,0],[87,3,5],[88,4,3],[89,10,3],[90,11,5],[91,12,0],[92,11,-3],[93,7,5],[94,11,3],[95,6,8],[96,10,5],[97,6,10],[98,1,0],[99,1,180],[100,4,5],[101,5,3],[102,4,8],[103,5,10],[104,4,5],[105,3,-120],[106,5,5],[107,14,10],[108,14,-5],[115,4,40],[116,3,45],[117,12,175],[121,1,0],[122,4,150]],
  [[1,18,18],[4,8,-115],[10,2,175],[13,7,5],[16,11,12],[21,5,175],[24,12,-20],[25,9,10],[27,3,-160],[29,5,5],[30,4,5],[32,3,5],[33,9,10],[34,7,10],[35,6,5],[36,8,15],[37,11,10],[38,13,20],[39,15,15],[40,14,10],[41,12,-15],[44,21,-44],[45,14,20],[46,12,-20],[47,10,25],[48,13,-15],[49,8,-40],[51,4,175],[53,5,175],[54,4,170],[55,40,2],[58,4,180],[59,3,175],[60,21,-170],[62,22,-170],[64,20,-168],[66,18,-165],[70,3,-150],[72,4,170],[74,2,180],[76,14,10],[84,10,-10],[85,4,5],[87,9,3],[88,10,5],[89,11,3],[90,12,0],[91,11,5],[92,12,-3],[93,10,3],[94,11,5],[95,9,8],[96,8,10],[97,7,12],[98,5,5],[99,6,3],[100,4,0],[101,5,5],[102,1,0],[103,4,5],[104,3,3],[105,5,0],[106,4,5],[107,11,5],[108,10,178],[112,11,8],[116,26,3],[120,24,82],[121,3,90],[143,21,-130]],
  [[1,21,-168],[3,5,0],[11,1,0],[17,8,-5],[18,4,-100],[22,3,180],[23,5,5],[24,7,10],[25,4,5],[26,6,8],[27,5,3],[28,4,5],[30,3,3],[31,7,5],[32,14,10],[33,15,15],[34,13,12],[35,16,18],[36,14,20],[37,15,15],[38,13,10],[39,10,10],[40,15,-30],[42,11,-10],[45,13,-15],[46,16,5],[47,12,-20],[48,8,-60],[49,8,-45],[50,14,-20],[52,30,2],[66,13,10],[72,26,-145],[73,25,-148],[74,24,-145],[75,3,180],[78,10,10],[80,6,170],[81,3,180],[85,5,3],[86,5,5],[88,10,3],[89,12,5],[90,14,3],[91,13,0],[92,12,-3],[93,11,5],[94,13,3],[95,10,8],[96,9,5],[98,11,-20],[99,4,5],[100,3,3],[101,4,0],[102,3,5],[103,4,5],[104,6,3],[105,5,5],[106,6,3],[107,11,5],[110,5,175],[118,6,5],[119,22,15],[126,8,60]],
  [[3,20,10],[4,20,12],[17,2,90],[21,18,5],[23,13,-129],[24,5,175],[25,15,10],[26,15,12],[28,14,15],[29,14,18],[30,15,15],[33,9,-150],[34,10,-148],[35,9,-152],[36,8,-150],[37,3,170],[40,5,5],[41,6,3],[42,5,5],[43,3,90],[46,26,-5],[47,28,5],[48,27,8],[49,25,10],[50,6,170],[54,11,-104],[55,2,180],[57,8,-125],[62,2,90],[67,11,15],[70,14,-59],[75,14,-10],[80,10,-10],[82,14,-151],[88,12,3],[89,14,5],[90,15,0],[91,13,-3],[92,11,5],[96,20,-15],[100,3,-150],[103,5,5],[105,5,175],[107,2,0],[120,8,-5],[122,25,121],[124,16,67]],
  [[5,20,7],[17,6.5,7],[28,2,0],[29,2,5],[30,13,-135],[31,12,-138],[32,14,-130],[33,5.5,47],[35,7,120],[38,13,45],[39,5,-10],[41,11,-137],[45,9.5,-15],[48,10,178],[51,9,-20],[52,9,-22],[54,20,-92],[55,1,0],[56,26,0],[60,8,-120],[80,11,138],[82,5.4,-22],[87,3,-175],[88,7,-2],[89,5,-5],[91,16,0],[92,17,0],[93,5,0],[94,6,135],[101,10,-130],[104,9,170],[107,25,-15],[108,6,5],[110,5,130],[111,1,0],[122,10,-175],[123,6,3],[139,1,-30]],
  [[17,4.5,-5],[29,10.5,-101],[30,3,-165],[32,3,-110],[36,3,-105],[39,7,138],[40,10,-111],[41,6,-123],[48,16,157],[49,4,-170],[52,6,-63],[53,4,-135],[54,22,-70],[55,4,-8],[60,21,-152],[82,4,5],[86,3.5,-10],[87,7,0],[88,8,0],[89,6,-3],[93,6,0],[99,11,121],[108,11.4,0],[109,10.5,1],[110,3.5,3],[122,14,180],[123,15,-2],[139,7,178]],
  [[4,8,-121],[17,2,-10],[34,17,67],[39,25.6,-133],[41,18.5,28],[49,16,163],[55,8,180],[57,6,-95],[82,2,175],[86,4,4],[87,13,3],[88,14,5],[89,13,8],[90,14,4],[91,8,5],[98,10.5,-31],[100,21,-30],[102,11,-136],[111,3,-170],[122,6,5],[123,17.5,13],[139,19,37]]
];

// ---- stick geometry: one m/s moves the tip 0.4 h along time and 0.139 m along height ----
var hoursPerSpeed = 0.4;
var metresPerSpeed = 0.139;

function colorFor(s) {
  var i = 0;
  while (i < speedBins.length && s >= speedBins[i]) i++;
  return binColors[i];
}

// flatten into [time, height, speed, dir]
var sticks = [];
speedRows.forEach(function (row, r) {
  row.forEach(function (s, k) {
    if (s === null) return;
    sticks.push([startTime + k * stepMs, heights[r], s, dirRows[r][k]]);
  });
});
upperSticks.forEach(function (list, i) {
  list.forEach(function (p) {
    sticks.push([startTime + p[0] * stepMs, heights[speedRows.length + i], p[1], p[2]]);
  });
});

var chart = echarts.init(document.getElementById('chart'), null, { renderer: 'canvas' });

function pad(n) { return (n < 10 ? '0' : '') + n; }
var dayTickValues = dayTicks.map(function (d) { return Date.parse(d + 'T00:00:00Z'); });

var option = {
  animation: false,
  backgroundColor: '#ffffff',
  textStyle: { fontFamily: 'DejaVu Sans' },
  title: {
    text: titleText,
    left: 8, top: 7,
    textStyle: { fontSize: 17, fontWeight: 'normal', color: '#000', fontFamily: 'DejaVu Sans' }
  },
  grid: {
    left: 85, top: 77, width: 1909, height: 5891,
    show: true, borderColor: '#000', borderWidth: 1.2, backgroundColor: 'transparent'
  },
  xAxis: {
    // time kept as epoch milliseconds on a value axis
    type: 'value',
    min: Date.UTC(2026, 7, 19, 1, 53),
    max: Date.UTC(2026, 7, 25, 10, 15),
    splitLine: { show: false },
    axisLine: { show: false },
    axisTick: {
      show: true, length: 5, lineStyle: { color: '#000', width: 1 },
      customValues: dayTickValues
    },
    axisLabel: {
      color: '#000', fontSize: 14, margin: 9, fontFamily: 'DejaVu Sans',
      customValues: dayTickValues,
      formatter: function (v) {
        var d = new Date(v);
        return d.getUTCFullYear() + '-' + pad(d.getUTCMonth() + 1) + '-' + pad(d.getUTCDate());
      }
    }
  },
  yAxis: {
    type: 'value',
    inverse: true,
    min: 34.4, max: 198.4,
    splitLine: { show: false },
    axisLine: { show: false },
    axisTick: { show: false, customValues: heights },
    axisLabel: {
      color: '#000', fontSize: 14, margin: 2, fontFamily: 'DejaVu Sans',
      customValues: heights,
      formatter: function (v) { return v.toFixed(1) + ' m'; }
    }
  },
  series: [{
    type: 'custom',
    coordinateSystem: 'cartesian2d',
    clip: true,
    progressive: 0,
    encode: { x: 0, y: 1 },
    data: sticks,
    renderItem: function (params, api) {
      var t = api.value(0), h = api.value(1), s = api.value(2);
      var a = api.value(3) * Math.PI / 180;
      var p0 = api.coord([t, h]);
      var p1 = api.coord([t + s * Math.sin(a) * hoursPerSpeed * 3600000, h + s * Math.cos(a) * metresPerSpeed]);
      return {
        type: 'line',
        shape: { x1: p0[0], y1: p0[1], x2: p1[0], y2: p1[1] },
        style: { stroke: colorFor(s), lineWidth: 4, lineCap: 'butt' }
      };
    }
  }]
};

chart.setOption(option);
</script>
</body>
</html>
